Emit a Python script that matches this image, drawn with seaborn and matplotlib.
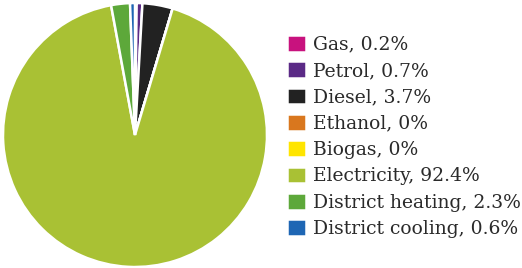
import matplotlib
matplotlib.use("Agg")
import matplotlib.pyplot as plt
import seaborn as sns

categories = ["Gas", "Petrol", "Diesel", "Ethanol", "Biogas", "Electricity",
              "District heating", "District cooling"]
values = [0.2, 0.7, 3.7, 0.0, 0.0, 92.4, 2.3, 0.6]
labels = ["0.2%", "0.7%", "3.7%", "0%", "0%", "92.4%", "2.3%", "0.6%"]
colors = ["#C8127E", "#5B2A86", "#222222", "#D9771E", "#FFE500",
          "#A9C134", "#5DA83A", "#1E66B4"]

sns.set_style("white")
plt.rcParams['font.family'] = ['DejaVu Serif']

fig = plt.figure(figsize=(5.22, 2.68), dpi=100)
ax = fig.add_axes([3/522, 1/268, 264/522, 264/268])
wedges, _ = ax.pie(values, colors=colors, startangle=90, counterclock=False,
                   wedgeprops=dict(edgecolor="white", linewidth=1.8))
ax.set_xlim(-1.0, 1.0)
ax.set_ylim(-1.0, 1.0)
ax.set_aspect("equal")
ax.axis("off")

leg_labels = [f"{c}, {l}" for c, l in zip(categories, labels)]
fig.legend(wedges, leg_labels, loc="upper left", bbox_to_anchor=(287/522, 1 - 35/268),
           frameon=False, fontsize=13.5, handlelength=1.0, handleheight=1.0,
           handletextpad=0.4, labelspacing=0.4, borderaxespad=0, borderpad=0,
           labelcolor="#2a2a2a")
fig.savefig("out.png", dpi=100, facecolor="white")
